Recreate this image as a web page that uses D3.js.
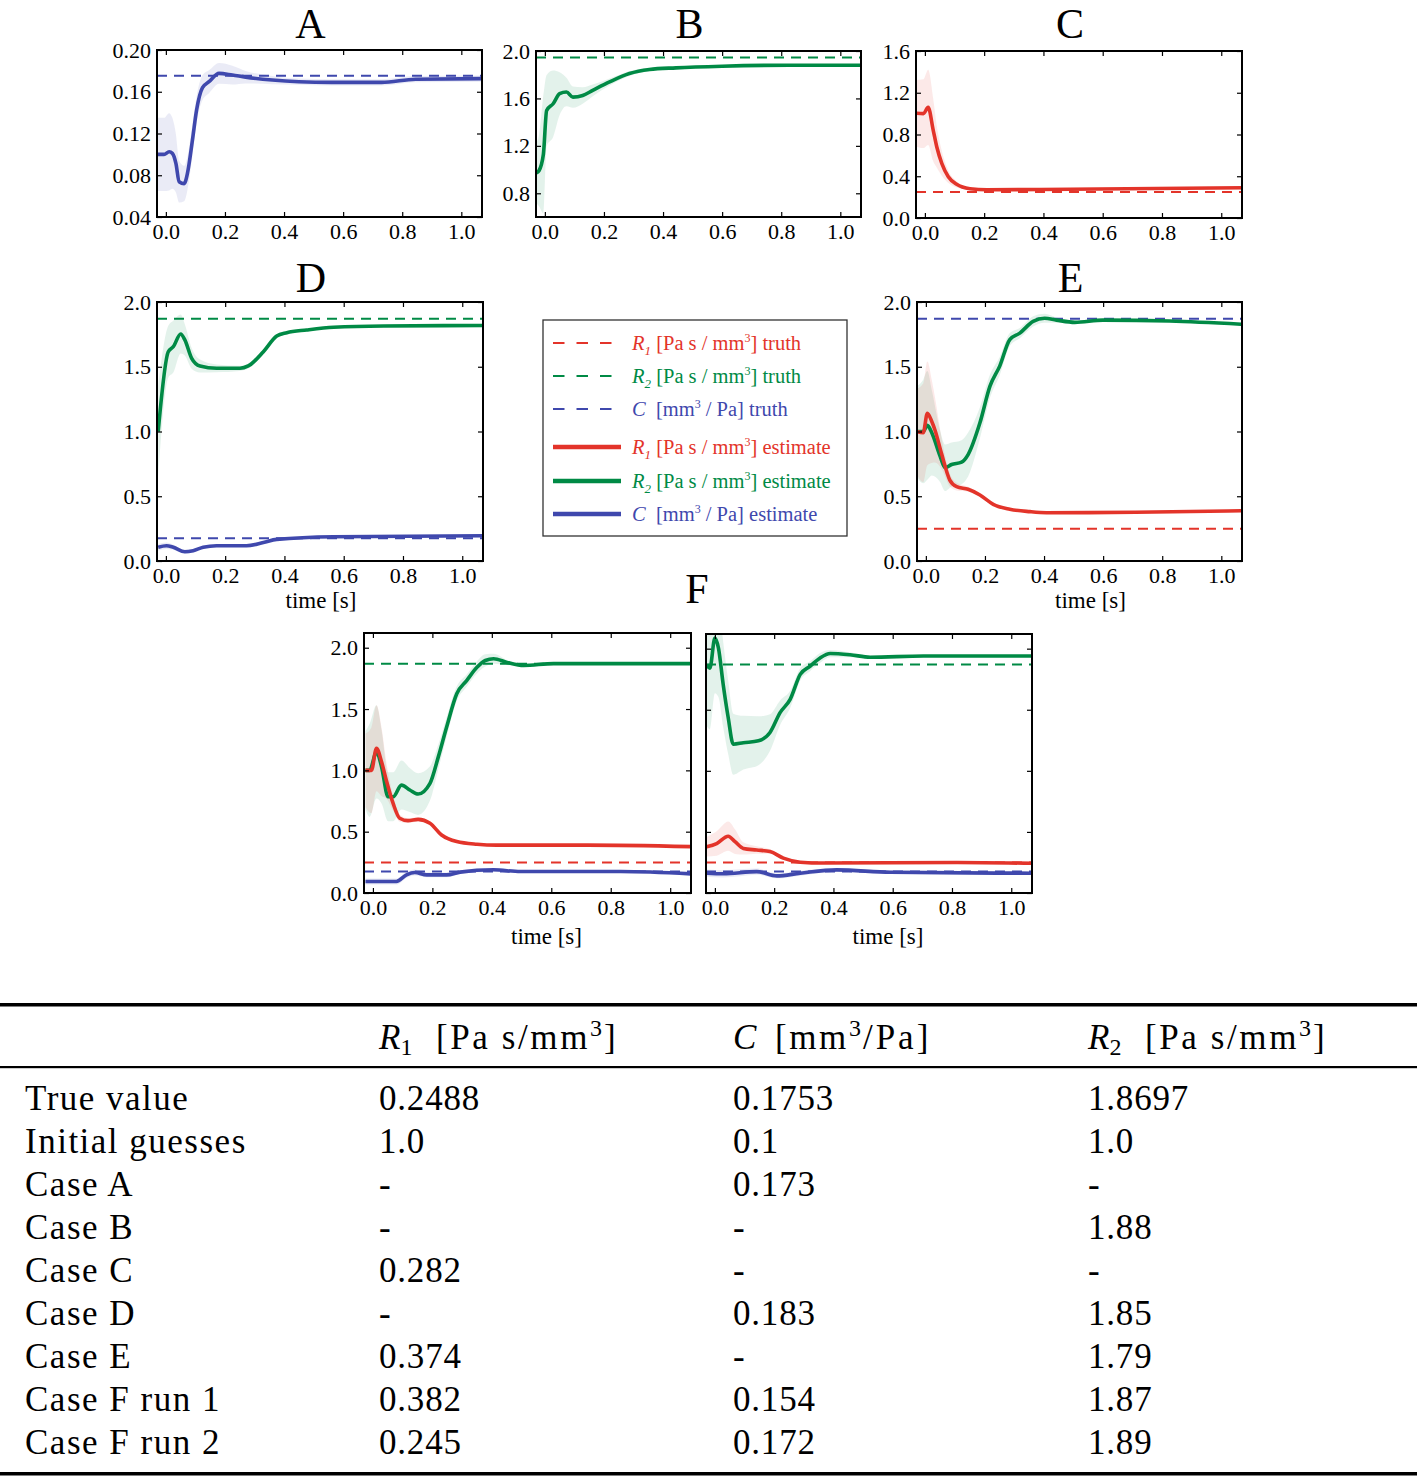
<!DOCTYPE html>
<html>
<head>
<meta charset="utf-8">
<script src="https://cdn.jsdelivr.net/npm/d3@7"></script>
<style>
body { margin: 0; background: #fff; }
text { font-family: "Liberation Serif", "Times New Roman", serif; white-space: pre; }
</style>
</head>
<body>
<div id="fig"></div>
<script>
var RED = "#e3342a", GREEN = "#008a45", BLUE = "#3f48ad";

// true parameter values (dashed lines)
var TRUTH_R1 = 0.2488, TRUTH_C = 0.1753, TRUTH_R2 = 1.8697;
var B_TRUTH_DRAWN = 1.945;   // where the dashed line sits in panel B

// ---- panel A : C estimate
var A_C_t = [-0.03, -0.006, 0.011, 0.022, 0.034, 0.045, 0.062, 0.073, 0.09, 0.104, 0.124, 0.146, 0.18, 0.225, 0.27, 0.36, 0.45, 0.56, 0.73, 0.845, 1.07];
var A_C_v = [0.100, 0.100, 0.1025, 0.101, 0.0914, 0.0738, 0.072, 0.0818, 0.1137, 0.1425, 0.164, 0.1696, 0.1776, 0.176, 0.174, 0.1712, 0.1696, 0.169, 0.169, 0.172, 0.1726];
var A_C_s = [0.035, 0.035, 0.037, 0.034, 0.028, 0.02, 0.017, 0.016, 0.015, 0.013, 0.012, 0.011, 0.01, 0.009, 0.006, 0.004, 0.003, 0.003, 0.003, 0.003, 0.003];

// ---- panel B : R2 estimate
var B_R2_t = [-0.028, -0.02, -0.005, 0.006, 0.028, 0.05, 0.073, 0.095, 0.128, 0.162, 0.219, 0.286, 0.354, 0.444, 0.6, 0.826, 1.07];
var B_R2_v = [0.973, 0.99, 1.13, 1.498, 1.555, 1.64, 1.654, 1.611, 1.625, 1.668, 1.739, 1.81, 1.844, 1.858, 1.872, 1.88, 1.88];
var B_R2_s = [0.26, 0.3, 0.5, 0.3, 0.28, 0.18, 0.12, 0.09, 0.07, 0.05, 0.03, 0.02, 0.015, 0.01, 0.008, 0.008, 0.008];

// ---- panel C : R1 estimate
var C_R1_t = [-0.028, -0.005, 0.011, 0.028, 0.04, 0.057, 0.079, 0.107, 0.152, 0.209, 0.49, 1.07];
var C_R1_v = [1.003, 1.0, 1.06, 0.843, 0.683, 0.524, 0.396, 0.323, 0.281, 0.27, 0.276, 0.29];
var C_R1_s = [0.32, 0.33, 0.36, 0.3, 0.2, 0.12, 0.06, 0.03, 0.01, 0.008, 0.008, 0.015];

// ---- panel D : R2 and C estimates
var D_R2_t = [-0.026, 0.008, 0.025, 0.05, 0.064, 0.087, 0.115, 0.171, 0.25, 0.278, 0.329, 0.374, 0.408, 0.475, 0.566, 0.735, 1.067];
var D_R2_v = [1.0, 1.616, 1.655, 1.753, 1.707, 1.565, 1.506, 1.488, 1.488, 1.506, 1.616, 1.737, 1.763, 1.784, 1.805, 1.815, 1.818];
var D_R2_s = [0.35, 0.2, 0.2, 0.15, 0.12, 0.08, 0.05, 0.03, 0.02, 0.02, 0.015, 0.01, 0.01, 0.008, 0.006, 0.005, 0.005];
var D_C_t = [-0.026, 0.002, 0.025, 0.064, 0.092, 0.126, 0.171, 0.272, 0.329, 0.374, 0.566, 1.067];
var D_C_v = [0.106, 0.118, 0.106, 0.072, 0.08, 0.106, 0.118, 0.118, 0.143, 0.167, 0.187, 0.195];
var D_C_s = [0.025, 0.025, 0.02, 0.015, 0.012, 0.01, 0.008, 0.008, 0.006, 0.006, 0.005, 0.005];

// ---- panel E : R1 and R2 estimates
var E_R2_t = [-0.031, -0.009, 0.005, 0.02, 0.048, 0.065, 0.087, 0.121, 0.143, 0.183, 0.217, 0.25, 0.284, 0.318, 0.363, 0.402, 0.442, 0.504, 0.6, 0.825, 1.067];
var E_R2_v = [1.0, 1.0, 1.047, 0.99, 0.81, 0.72, 0.745, 0.763, 0.822, 1.067, 1.35, 1.505, 1.71, 1.76, 1.85, 1.874, 1.86, 1.843, 1.86, 1.853, 1.828];
var E_R2_s = [0.35, 0.4, 0.42, 0.33, 0.2, 0.18, 0.17, 0.17, 0.17, 0.12, 0.09, 0.07, 0.05, 0.04, 0.04, 0.035, 0.02, 0.01, 0.008, 0.008, 0.008];
var E_R1_t = [-0.031, -0.009, 0.005, 0.02, 0.031, 0.053, 0.081, 0.104, 0.143, 0.183, 0.228, 0.284, 0.352, 0.408, 0.71, 1.067];
var E_R1_v = [1.0, 0.99, 1.14, 1.077, 1.01, 0.83, 0.625, 0.574, 0.554, 0.51, 0.438, 0.4, 0.381, 0.373, 0.376, 0.388];
var E_R1_s = [0.33, 0.38, 0.4, 0.32, 0.25, 0.12, 0.05, 0.03, 0.02, 0.015, 0.01, 0.008, 0.006, 0.005, 0.005, 0.005];

// ---- panel F run 1
var F1_R2_t = [-0.025, -0.011, 0.012, 0.029, 0.051, 0.068, 0.096, 0.124, 0.152, 0.192, 0.22, 0.248, 0.282, 0.316, 0.35, 0.378, 0.406, 0.451, 0.507, 0.608, 1.07];
var F1_R2_v = [1.0, 1.0, 1.15, 1.03, 0.785, 0.785, 0.88, 0.84, 0.807, 0.894, 1.11, 1.354, 1.625, 1.734, 1.84, 1.896, 1.91, 1.88, 1.855, 1.87, 1.87];
var F1_R2_s = [0.32, 0.38, 0.38, 0.3, 0.2, 0.2, 0.2, 0.18, 0.17, 0.14, 0.1, 0.08, 0.06, 0.05, 0.05, 0.05, 0.04, 0.02, 0.01, 0.008, 0.008];
var F1_R1_t = [-0.025, -0.005, 0.012, 0.029, 0.045, 0.068, 0.09, 0.118, 0.152, 0.192, 0.231, 0.282, 0.35, 0.417, 0.721, 1.07];
var F1_R1_v = [1.0, 1.0, 1.18, 1.07, 0.92, 0.73, 0.61, 0.59, 0.6, 0.568, 0.473, 0.419, 0.397, 0.39, 0.39, 0.378];
var F1_R1_s = [0.3, 0.35, 0.35, 0.28, 0.15, 0.06, 0.03, 0.02, 0.015, 0.012, 0.01, 0.008, 0.006, 0.005, 0.005, 0.005];
var F1_C_t = [-0.025, 0.079, 0.113, 0.141, 0.181, 0.248, 0.293, 0.406, 0.496, 0.834, 1.07];
var F1_C_v = [0.094, 0.094, 0.148, 0.167, 0.148, 0.148, 0.17, 0.189, 0.175, 0.175, 0.156];
var F1_C_s = [0.025, 0.025, 0.025, 0.025, 0.02, 0.02, 0.015, 0.015, 0.01, 0.01, 0.01];

// ---- panel F run 2
var F2_R2_t = [-0.028, -0.017, 0.0, 0.012, 0.028, 0.045, 0.062, 0.096, 0.147, 0.186, 0.22, 0.254, 0.288, 0.321, 0.355, 0.389, 0.456, 0.524, 0.704, 1.07];
var F2_R2_v = [1.87, 1.84, 2.086, 2.005, 1.707, 1.435, 1.218, 1.23, 1.246, 1.314, 1.476, 1.585, 1.789, 1.856, 1.924, 1.96, 1.95, 1.93, 1.94, 1.94];
var F2_R2_s = [0.5, 0.5, 0.45, 0.4, 0.35, 0.3, 0.25, 0.22, 0.2, 0.15, 0.1, 0.07, 0.05, 0.04, 0.04, 0.03, 0.02, 0.01, 0.008, 0.008];
var F2_R1_t = [-0.028, 0.006, 0.045, 0.068, 0.096, 0.141, 0.186, 0.231, 0.288, 0.366, 0.817, 1.07];
var F2_R1_v = [0.378, 0.405, 0.465, 0.42, 0.365, 0.352, 0.339, 0.285, 0.252, 0.245, 0.25, 0.243];
var F2_R1_s = [0.08, 0.1, 0.12, 0.1, 0.05, 0.03, 0.02, 0.015, 0.01, 0.008, 0.008, 0.008];
var F2_C_t = [-0.028, 0.028, 0.141, 0.209, 0.288, 0.411, 0.592, 1.07];
var F2_C_v = [0.162, 0.157, 0.175, 0.14, 0.162, 0.189, 0.17, 0.162];
var F2_C_s = [0.03, 0.03, 0.025, 0.02, 0.02, 0.015, 0.012, 0.012];

var XTICKS = [0, 0.2, 0.4, 0.6, 0.8, 1.0];
var XDOM = [-0.03, 1.07];

// ---- table
var rowLabels = ["True value", "Initial guesses", "Case A", "Case B", "Case C", "Case D", "Case E", "Case F run 1", "Case F run 2"];
var colR1 = ["0.2488", "1.0", "-", "-", "0.282", "-", "0.374", "0.382", "0.245"];
var colC  = ["0.1753", "0.1", "0.173", "-", "-", "0.183", "-", "0.154", "0.172"];
var colR2 = ["1.8697", "1.0", "-", "1.88", "-", "1.85", "1.79", "1.87", "1.89"];

function ser(t, v, s, color){ return {t: t, v: v, s: s, color: color}; }

var panels = [
  {key: "A", x: 157, y: 50, w: 325, h: 167, ydom: [0.04, 0.20], yticks: [0.04, 0.08, 0.12, 0.16, 0.20], yfmt: ".2f", ylab: true,
   title: "A", titleY: -12, series: [ser(A_C_t, A_C_v, A_C_s, BLUE)], truth: [[TRUTH_C, BLUE]]},
  {key: "B", x: 536, y: 51, w: 325, h: 166, ydom: [0.6, 2.0], yticks: [0.8, 1.2, 1.6, 2.0], yfmt: ".1f", ylab: true,
   title: "B", titleY: -13, series: [ser(B_R2_t, B_R2_v, B_R2_s, GREEN)], truth: [[B_TRUTH_DRAWN, GREEN]]},
  {key: "C", x: 916, y: 51, w: 326, h: 167, ydom: [0, 1.6], yticks: [0, 0.4, 0.8, 1.2, 1.6], yfmt: ".1f", ylab: true,
   title: "C", titleY: -13, series: [ser(C_R1_t, C_R1_v, C_R1_s, RED)], truth: [[TRUTH_R1, RED]]},
  {key: "D", x: 157, y: 302, w: 326, h: 259, ydom: [0, 2.0], yticks: [0, 0.5, 1.0, 1.5, 2.0], yfmt: ".1f", ylab: true,
   title: "D", titleY: -10, xlabel: 1, xlabelY: 47,
   series: [ser(D_R2_t, D_R2_v, D_R2_s, GREEN), ser(D_C_t, D_C_v, D_C_s, BLUE)], truth: [[TRUTH_R2, GREEN], [TRUTH_C, BLUE]]},
  {key: "E", x: 917, y: 302, w: 325, h: 259, ydom: [0, 2.0], yticks: [0, 0.5, 1.0, 1.5, 2.0], yfmt: ".1f", ylab: true,
   title: "E", titleY: -10, xlabel: 11, xlabelY: 47,
   series: [ser(E_R2_t, E_R2_v, E_R2_s, GREEN), ser(E_R1_t, E_R1_v, E_R1_s, RED)], truth: [[TRUTH_R2, BLUE], [TRUTH_R1, RED]]},
  {key: "F1", x: 364, y: 633, w: 327, h: 260, ydom: [0, 2.12], yticks: [0, 0.5, 1.0, 1.5, 2.0], yfmt: ".1f", ylab: true,
   xlabel: 19, xlabelY: 51,
   series: [ser(F1_R2_t, F1_R2_v, F1_R2_s, GREEN), ser(F1_R1_t, F1_R1_v, F1_R1_s, RED), ser(F1_C_t, F1_C_v, F1_C_s, BLUE)],
   truth: [[TRUTH_R2, GREEN], [TRUTH_R1, RED], [TRUTH_C, BLUE]]},
  {key: "F2", x: 706, y: 634, w: 326, h: 259, ydom: [0, 2.12], yticks: [0, 0.5, 1.0, 1.5, 2.0], yfmt: ".1f", ylab: false,
   xlabel: 19, xlabelY: 51,
   series: [ser(F2_R2_t, F2_R2_v, F2_R2_s, GREEN), ser(F2_R1_t, F2_R1_v, F2_R1_s, RED), ser(F2_C_t, F2_C_v, F2_C_s, BLUE)],
   truth: [[TRUTH_R2, GREEN], [TRUTH_R1, RED], [TRUTH_C, BLUE]]}
];

var svg = d3.select("#fig").append("svg")
  .attr("width", 1419)
  .attr("height", 1478)
  .attr("font-family", "'Liberation Serif', serif")

function drawPanel(p){
  var g = svg.append("g").attr("transform", "translate(" + p.x + "," + p.y + ")")
  var x = d3.scaleLinear().domain(XDOM).range([0, p.w]);
  var y = d3.scaleLinear().domain(p.ydom).range([p.h, 0]);

  g.append("clipPath").attr("id", "clip" + p.key)
    .append("rect").attr("width", p.w).attr("height", p.h)
  var plot = g.append("g").attr("clip-path", "url(#clip" + p.key + ")")

  var area = d3.area()
    .x(function(d){ return x(d.t) })
    .y0(function(d){ return y(d.v - d.s) })
    .y1(function(d){ return y(d.v + d.s) })
    .curve(d3.curveMonotoneX)
  var line = d3.line()
    .x(function(d){ return x(d.t) })
    .y(function(d){ return y(d.v) })
    .curve(d3.curveMonotoneX)

  var data = p.series.map(function(s){
    return {color: s.color, pts: s.t.map(function(t, i){ return {t: t, v: s.v[i], s: s.s[i]} })}
  })

  data.forEach(function(s){
    plot.append("path").attr("d", area(s.pts))
      .attr("fill", s.color).attr("fill-opacity", 0.11).attr("stroke", "none")
  })

  p.truth.forEach(function(tr){
    plot.append("line")
      .attr("x1", 0).attr("x2", p.w)
      .attr("y1", y(tr[0])).attr("y2", y(tr[0]))
      .attr("stroke", tr[1]).attr("stroke-width", 2)
      .attr("stroke-dasharray", "10,7")
  })

  data.forEach(function(s){
    plot.append("path").attr("d", line(s.pts))
      .attr("fill", "none").attr("stroke", s.color)
      .attr("stroke-width", 3.6).attr("stroke-linejoin", "round")
  })

  // ticks inside on all four sides
  g.append("g").attr("transform", "translate(0," + p.h + ")")
    .call(d3.axisBottom(x).tickValues(XTICKS).tickSize(-5).tickPadding(6).tickFormat(d3.format(".1f")))
  g.append("g").call(d3.axisTop(x).tickValues(XTICKS).tickSize(-5).tickFormat(""))
  g.append("g")
    .call(d3.axisLeft(y).tickValues(p.yticks).tickSize(-5).tickPadding(6).tickFormat(p.ylab ? d3.format(p.yfmt) : ""))
  g.append("g").attr("transform", "translate(" + p.w + ",0)")
    .call(d3.axisRight(y).tickValues(p.yticks).tickSize(-5).tickFormat(""))

  g.selectAll(".domain").remove()
  g.selectAll(".tick line").attr("stroke", "#000").attr("stroke-width", 1.2)
  g.selectAll(".tick text")
    .attr("fill", "#000")
    .style("font-family", "'Liberation Serif', serif")
    .style("font-size", "22px")

  g.append("rect")
    .attr("width", p.w).attr("height", p.h)
    .attr("fill", "none").attr("stroke", "#000").attr("stroke-width", 2)

  if (p.title){
    g.append("text")
      .attr("x", p.w / 2 - 9).attr("y", p.titleY)
      .attr("text-anchor", "middle")
      .style("font-size", "42px")
      .text(p.title)
  }
  if (p.xlabel !== undefined){
    g.append("text")
      .attr("x", p.w / 2 + p.xlabel).attr("y", p.h + p.xlabelY)
      .attr("text-anchor", "middle")
      .style("font-size", "23px")
      .text("time [s]")
  }
}

panels.forEach(drawPanel)

// title for the pair of F panels
svg.append("text")
  .attr("x", 697).attr("y", 603)
  .attr("text-anchor", "middle")
  .style("font-size", "42px")
  .text("F")

// ---- legend
var legendItems = [
  {sym: "R", sub: "1", unit: "Pa s / mm", tail: "] truth", color: RED, dash: true},
  {sym: "R", sub: "2", unit: "Pa s / mm", tail: "] truth", color: GREEN, dash: true},
  {sym: "C", sub: null, unit: "mm", tail: " / Pa] truth", color: BLUE, dash: true},
  {sym: "R", sub: "1", unit: "Pa s / mm", tail: "] estimate", color: RED, dash: false},
  {sym: "R", sub: "2", unit: "Pa s / mm", tail: "] estimate", color: GREEN, dash: false},
  {sym: "C", sub: null, unit: "mm", tail: " / Pa] estimate", color: BLUE, dash: false}
];
var legendRowY = [343, 376, 409, 447, 481, 514];

var legend = svg.append("g")
legend.append("rect")
  .attr("x", 543).attr("y", 320).attr("width", 304).attr("height", 216)
  .attr("fill", "#fff").attr("stroke", "#333").attr("stroke-width", 1.3)

legendItems.forEach(function(it, i){
  var yy = legendRowY[i];
  legend.append("line")
    .attr("x1", 553).attr("x2", it.dash ? 612 : 621)
    .attr("y1", yy).attr("y2", yy)
    .attr("stroke", it.color)
    .attr("stroke-width", it.dash ? 2 : 4.5)
    .attr("stroke-dasharray", it.dash ? "11.5,12" : null)
  var t = legend.append("text")
    .attr("x", 632).attr("y", yy + 7)
    .attr("fill", it.color)
    .style("font-size", "20.5px")
  t.append("tspan").style("font-style", "italic").text(it.sym)
  if (it.sub){
    t.append("tspan").style("font-style", "italic").style("font-size", "13px").attr("dy", 5).text(it.sub)
    t.append("tspan").attr("dy", -5).text(" [" + it.unit)
  } else {
    t.append("tspan").text("  [" + it.unit)
  }
  t.append("tspan").style("font-size", "12px").attr("dy", -8).text("3")
  t.append("tspan").attr("dy", 8).text(it.tail)
})

// ---- table
var table = svg.append("g")
table.append("rect").attr("x", 0).attr("y", 1003).attr("width", 1417).attr("height", 3.5).attr("fill", "#000")
table.append("rect").attr("x", 0).attr("y", 1066).attr("width", 1417).attr("height", 2.2).attr("fill", "#000")
table.append("rect").attr("x", 0).attr("y", 1472).attr("width", 1417).attr("height", 3.5).attr("fill", "#000")

var colX = [25, 379, 733, 1088];
var headerY = 1049;
var rowY = d3.scaleLinear().domain([0, rowLabels.length - 1]).range([1110, 1454]);

function header(x, sym, sub, pre, post){
  var t = table.append("text").attr("x", x).attr("y", headerY).style("font-size", "35px")
  t.append("tspan").style("font-style", "italic").text(sym)
  if (sub){
    t.append("tspan").style("font-size", "24px").attr("dy", 6).text(sub)
    t.append("tspan").attr("x", x + 57).attr("dy", -6).style("letter-spacing", "2.6px").text(pre)
  } else {
    t.append("tspan").attr("x", x + 42).style("letter-spacing", "2.6px").text(pre)
  }
  t.append("tspan").style("font-size", "24px").attr("dy", -13).text("3")
  t.append("tspan").attr("dy", 13).attr("dx", 2).style("letter-spacing", "3px").text(post)
}
header(colX[1], "R", "1", "[Pa s/mm", "]")
header(colX[2], "C", null, "[mm", "/Pa]")
header(colX[3], "R", "2", "[Pa s/mm", "]")

var cols = [rowLabels, colR1, colC, colR2];
cols.forEach(function(col, c){
  table.selectAll(null).data(col).enter().append("text")
    .attr("x", colX[c])
    .attr("y", function(d, i){ return rowY(i) })
    .style("font-size", "35px")
    .style("letter-spacing", c == 0 ? "1.5px" : "0.8px")
    .text(function(d){ return d })
})
</script>
</body>
</html>
